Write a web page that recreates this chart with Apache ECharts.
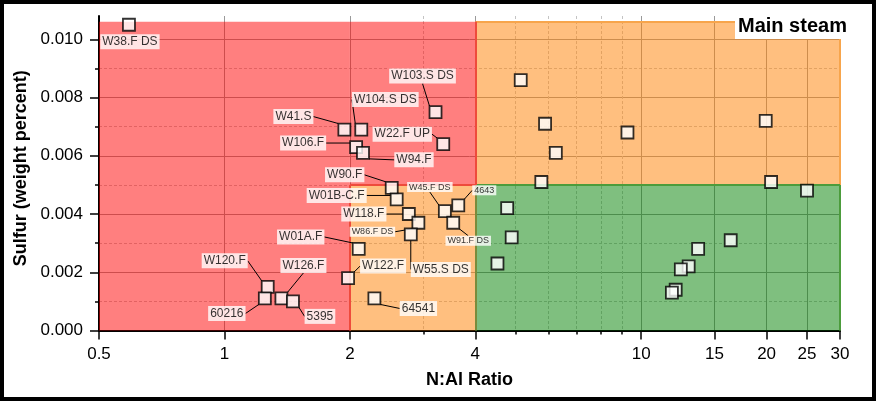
<!DOCTYPE html>
<html><head><meta charset="utf-8">
<script src="https://cdn.jsdelivr.net/npm/echarts@6/dist/echarts.min.js"></script>
<style>
html,body{margin:0;padding:0;background:#fff}
#wrap{position:relative;width:876px;height:401px}
#c{width:876px;height:401px}
#frame{position:absolute;left:0;top:0;width:876px;height:401px;box-sizing:border-box;border:4px solid #000;pointer-events:none}
</style></head><body>
<div id="wrap"><div id="c"></div><div id="frame"></div></div>
<script>
// ---- data ----
const labelNames = ['W38.F DS','W103.S DS','W104.S DS','W41.S','W22.F UP','W106.F','W94.F','W90.F','W01B-C.F','W118.F','W86.F DS','W55.S DS','W01A.F','W45.F DS','4643','W91.F DS','W122.F','64541','W120.F','60216','W126.F','5395'];
const labelX = [0.59,3.21,2.13,1.94,3.35,2.07,2.15,2.52,2.59,2.77,2.92,2.80,2.10,3.38,3.64,3.54,1.98,2.29,1.27,1.25,1.37,1.46];
const labelY = [0.0105,0.0075,0.0069,0.0069,0.0064,0.0063,0.0061,0.0049,0.0045,0.0040,0.0037,0.0033,0.0028,0.0041,0.0043,0.0037,0.0018,0.0011,0.0015,0.0011,0.0011,0.0010];
const otherX = [5.14,5.88,9.27,6.24,19.9,5.76,20.5,25.0,4.77,4.89,4.52,13.7,16.4,13.0,12.45,12.1,11.85];
const otherY = [0.0086,0.0071,0.0068,0.0061,0.0072,0.0051,0.0051,0.0048,0.0042,0.0032,0.0023,0.0028,0.0031,0.0022,0.0021,0.0014,0.0013];
const xTickLabels = [0.5,1,2,4,10,15,20,25,30];
const xMinorTicks = [3,5,6,7,8,9];
const yTickLabels = [0,0.002,0.004,0.006,0.008,0.010];
const yMinorTicks = [0.001,0.003,0.005,0.007,0.009];
const xMin = 0.5, xMax = 30, yMin = 0, yMax = 0.0108;
const regionTop = 0.0106, sulfurLimit = 0.005, ratioLow = 2, ratioHigh = 4;

// ---- label styling (offsets in px, not data) ----
const labelOffsets = [[1,17],[-13,-36],[24,-30],[-51,-13],[-41,-10],[-53,-4],[51,7],[-47,-13],[-60,-4],[-45,0],[-46,9],[30,35],[-58,-12],[-15,-24],[26,-15],[15,18],[35,-12],[44,10],[-43,-26],[-38,15],[22,-33],[27,15]];
const smallLabels = ['W86.F DS','W45.F DS','4643','W91.F DS'];

const FONT = '"Liberation Sans", Arial, sans-serif';
const RED = 'rgba(255,0,0,0.5)', ORANGE = 'rgba(255,128,0,0.5)', GREEN = 'rgba(0,128,0,0.5)';
const redB = '#ee4b3c', orangeB = '#f7a54c', greenB = '#4c9c3c';

const chart = echarts.init(document.getElementById('c'), null, {renderer:'canvas'});
const sym = {symbol:'rect', symbolSize:12, itemStyle:{color:'#fff', borderColor:'#000', borderWidth:1.8}};
const seg = (x1,y1,x2,y2,color) => [{coord:[x1,y1], lineStyle:{color:color, width:2, type:'solid'}},{coord:[x2,y2]}];

const option = {
  animation:false,
  backgroundColor:'#fff',
  title:{text:'Main steam', left:735, top:14, padding:[2,3,3,3], backgroundColor:'#fff',
    textStyle:{fontFamily:FONT, fontWeight:'bold', fontSize:20, color:'#000'}},
  grid:{left:99, right:36, top:16, bottom:70.5, containLabel:false},
  xAxis:[{
    type:'log', min:xMin, max:xMax, position:'bottom',
    name:'N:Al Ratio', nameLocation:'middle', nameGap:41,
    nameTextStyle:{fontFamily:FONT, fontWeight:'bold', fontSize:18, color:'#000'},
    axisLine:{show:true, onZero:false, lineStyle:{color:'#000', width:2}},
    axisTick:{show:true, inside:false, length:9, customValues:xTickLabels, lineStyle:{color:'#000', width:1.5}},
    axisLabel:{show:true, margin:15, customValues:xTickLabels, fontFamily:FONT, fontSize:17, color:'#000',
      formatter:v=>String(+(+v).toFixed(2))},
    splitLine:{show:true, lineStyle:{color:'#9a9a9a', width:1}},
    minorTick:{show:false}, minorSplitLine:{show:false}
  },{
    type:'log', min:xMin, max:xMax, position:'bottom',
    axisLine:{show:false},
    axisTick:{show:true, length:4, customValues:xMinorTicks, lineStyle:{color:'#000', width:1.5}},
    axisLabel:{show:false},
    splitLine:{show:true, lineStyle:{color:'#c4c4c4', width:1, type:[3,2]}}
  }],
  yAxis:[{
    type:'value', min:yMin, max:yMax,
    name:'Sulfur (weight percent)', nameLocation:'middle', nameGap:66,
    nameTextStyle:{fontFamily:FONT, fontWeight:'bold', fontSize:18, color:'#000', padding:[0,0,0,10]},
    axisLine:{show:true, onZero:false, lineStyle:{color:'#000', width:2}},
    axisTick:{show:true, length:9, customValues:yTickLabels, lineStyle:{color:'#000', width:1.5}},
    axisLabel:{show:true, margin:16, customValues:yTickLabels, fontFamily:FONT, fontSize:17, color:'#000',
      formatter:v=>(+v).toFixed(3)},
    splitLine:{show:true, lineStyle:{color:'#9a9a9a', width:1}}
  },{
    type:'value', min:yMin, max:yMax, position:'left',
    axisLine:{show:false},
    axisTick:{show:true, length:4, customValues:yMinorTicks, lineStyle:{color:'#000', width:1.5}},
    axisLabel:{show:false},
    splitLine:{show:true, lineStyle:{color:'#c4c4c4', width:1, type:[3,2]}}
  }],
  series:[
    {
      type:'scatter', data:[], z:1, silent:true,
      markArea:{silent:true, z:1, data:[
        [{xAxis:ratioLow, yAxis:0, itemStyle:{color:ORANGE, borderWidth:0}},{xAxis:ratioHigh, yAxis:sulfurLimit}],
        [{xAxis:ratioHigh, yAxis:sulfurLimit, itemStyle:{color:ORANGE, borderWidth:0}},{xAxis:xMax, yAxis:regionTop}],
        [{xAxis:xMin, yAxis:0, itemStyle:{color:RED, borderWidth:0}},{xAxis:ratioLow, yAxis:regionTop}],
        [{xAxis:ratioLow, yAxis:sulfurLimit, itemStyle:{color:RED, borderWidth:0}},{xAxis:ratioHigh, yAxis:regionTop}],
        [{xAxis:ratioHigh, yAxis:0, itemStyle:{color:GREEN, borderWidth:0}},{xAxis:xMax, yAxis:sulfurLimit}]
      ]},
      markLine:{silent:true, z:2, symbol:'none', label:{show:false}, data:[
        seg(ratioHigh, regionTop, xMax, regionTop, orangeB),
        seg(xMax, sulfurLimit, xMax, regionTop, orangeB),
        seg(ratioHigh, 0, ratioHigh, sulfurLimit, '#7a8c3c'),
        seg(ratioHigh, sulfurLimit, xMax, sulfurLimit, greenB),
        seg(xMax, 0, xMax, sulfurLimit, greenB),
        seg(ratioLow, 0, ratioLow, sulfurLimit, redB),
        seg(ratioLow, sulfurLimit, ratioHigh, sulfurLimit, redB),
        seg(ratioHigh, sulfurLimit, ratioHigh, regionTop, redB)
      ]}
    },
    Object.assign({
      type:'scatter', z:5,
      data: otherX.map((x,i)=>[x, otherY[i]])
    }, sym),
    Object.assign({
      type:'scatter', z:6,
      data: labelNames.map((n,i)=>{
        const d = {name:n, value:[labelX[i], labelY[i]]};
        if (smallLabels.includes(n)) d.label = {fontSize:9, padding:[1,2,0,2]};
        if (i === 0) d.labelLine = {show:false};
        return d;
      }),
      label:{show:true, position:'inside', formatter:'{b}', fontFamily:FONT, fontSize:12, color:'#000',
        backgroundColor:'#fff', padding:[2,2,1,2]},
      labelLine:{show:true, lineStyle:{color:'#000', width:1}},
      labelLayout: p => ({dx:labelOffsets[p.dataIndex][0], dy:labelOffsets[p.dataIndex][1]})
    }, sym)
  ]
};
chart.setOption(option);
</script>
</body></html>
